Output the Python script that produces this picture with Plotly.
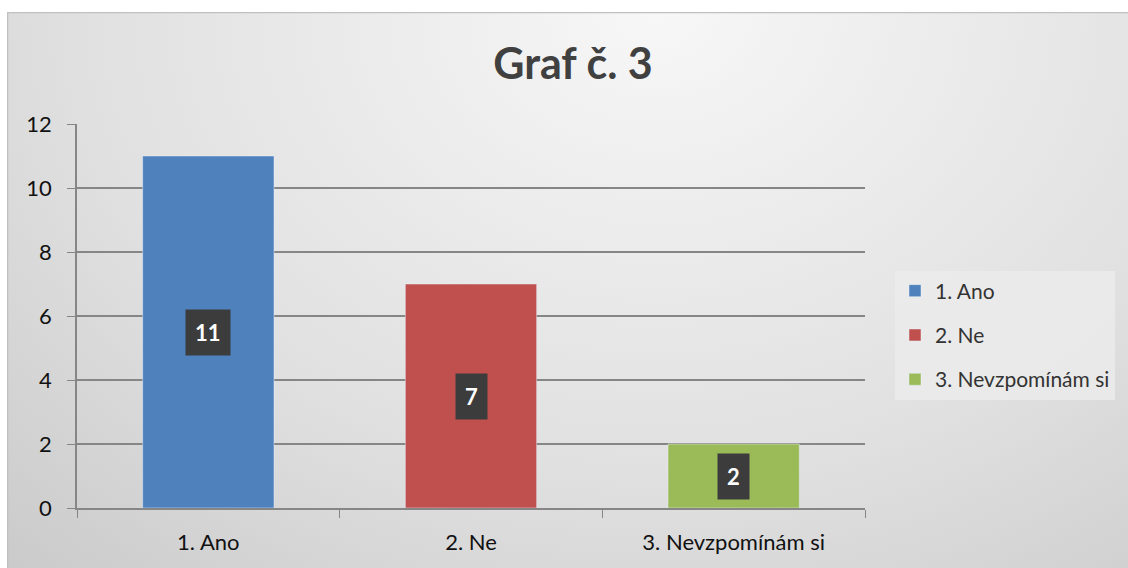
import base64
import plotly.graph_objects as go

categories = ["1. Ano", "2. Ne", "3. Nevzpomínám si"]
values = [11, 7, 2]
colors = ["#4f81bd", "#c0504d", "#9bbb59"]
y_ticks = [0, 2, 4, 6, 8, 10, 12]
title = "Graf č. 3"

W, H = 1128, 568
L, R, T, B = 77, 865, 124, 508
pw, ph = R - L, B - T

svg = f'''<svg xmlns="http://www.w3.org/2000/svg" width="1121" height="556" viewBox="0 0 1121 556" preserveAspectRatio="none">
<defs><radialGradient id="g" cx="0.58" cy="0.0" r="0.95" gradientTransform="translate(0.58 0) scale(1 1.6) translate(-0.58 0)">
<stop offset="0" stop-color="#f7f7f7"/><stop offset="0.55" stop-color="#e0e0e0"/><stop offset="1" stop-color="#c4c4c4"/></radialGradient></defs>
<rect x="0" y="0" width="1121" height="556" fill="url(#g)"/>
<path d="M0.5 556 L0.5 0.5 L1121 0.5" fill="none" stroke="#c0c0c0" stroke-width="1.5"/>
</svg>'''
src = "data:image/svg+xml;base64," + base64.b64encode(svg.encode()).decode()

fig = go.Figure()
for c, v, col in zip(categories, values, colors):
    fig.add_trace(go.Bar(x=[c], y=[v], name=c, marker_color=col, width=0.5,
                         legendgroup=c, showlegend=True))
    fig.add_annotation(x=c, y=v / 2, text=f"<b>{v}</b>", showarrow=False,
                       font=dict(family="Lato, sans-serif", size=22, color="white"),
                       bgcolor="#3c3c3c", borderpad=9, xref="x", yref="y")

fig.add_layout_image(dict(source=src, xref="paper", yref="paper",
                          x=(7 - L) / pw, y=(B - 12) / ph,
                          sizex=1121 / pw, sizey=556 / ph,
                          xanchor="left", yanchor="top", sizing="stretch", layer="below"))

fig.update_layout(
    width=W, height=H,
    margin=dict(l=L, r=W - R, t=T, b=H - B, pad=0),
    paper_bgcolor="white", plot_bgcolor="rgba(0,0,0,0)",
    barmode="overlay",
    title=dict(text=f"<b>{title}</b>", x=573 / W, xanchor="center", y=1 - 64 / H, yanchor="middle",
               font=dict(family="Lato, sans-serif", size=43, color="#404040")),
    font=dict(family="Lato, sans-serif", size=22, color="#111111"),
    legend=dict(x=(895 - L) / pw, xanchor="left", y=(B - 335) / ph, yanchor="middle",
                bgcolor="rgba(235,235,235,0.85)", font=dict(size=21, color="#333333"),
                traceorder="grouped", tracegroupgap=14, itemwidth=30),
    xaxis=dict(showline=True, linecolor="#868686", linewidth=1.5, ticks="outside",
               tickson="boundaries", ticklen=8, tickcolor="#868686", showgrid=False,
               tickfont=dict(size=22), fixedrange=True, ticklabelstandoff=14),
    yaxis=dict(range=[0, 12], tickvals=y_ticks, showline=True, linecolor="#868686",
               linewidth=1.5, ticks="outside", ticklen=8, tickcolor="#868686",
               showgrid=True, gridcolor="#868686", gridwidth=1.5, zeroline=False,
               tickfont=dict(size=22), ticklabelstandoff=11),
)

fig.write_html("out.html", config={"displayModeBar": False},
               post_script="document.body.style.margin='0';document.body.style.overflow='hidden';")
